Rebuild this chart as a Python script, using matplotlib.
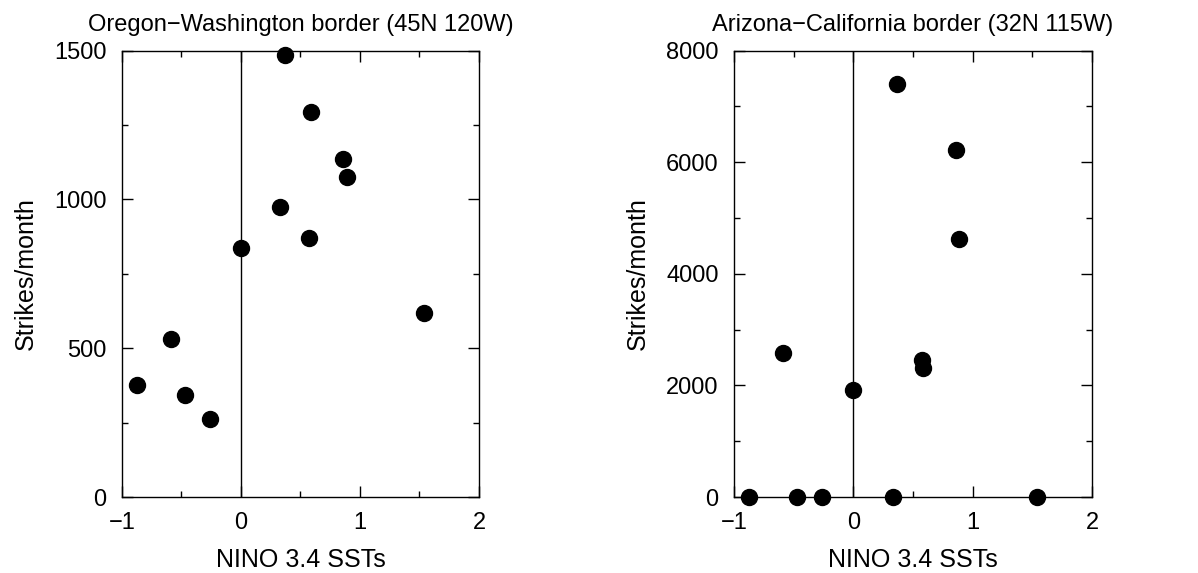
import matplotlib
matplotlib.use("Agg")
import matplotlib.pyplot as plt
from matplotlib.ticker import MultipleLocator

plt.rcParams['font.family'] = ['Liberation Sans', 'DejaVu Sans']

nino = [-0.874, -0.591, -0.468, -0.26, 0.0, 0.33, 0.37, 0.574, 0.586, 0.86, 0.888, 1.54]
oregon = [377, 532, 342, 263, 836, 974, 1486, 872, 1293, 1135, 1077, 617]
arizona = [0, 2587, 0, 0, 1918, 0, 7408, 2456, 2306, 6225, 4619, 0]

titles = ["Oregon\u2212Washington border (45N 120W)", "Arizona\u2212California border (32N 115W)"]
xlabel = "NINO 3.4 SSTs"
ylabel = "Strikes/month"

fig = plt.figure(figsize=(11.98, 5.73), dpi=100)
ax1 = fig.add_axes([0.1018, 0.1326, 0.298, 0.7789])
ax2 = fig.add_axes([0.6127, 0.1326, 0.2988, 0.7789])

configs = [(ax1, oregon, 1500, 500, 250), (ax2, arizona, 8000, 2000, 1000)]
for (ax, vals, ymax, ymaj, ymin), title in zip(configs, titles):
    ax.axvline(0, color='black', lw=1.0, zorder=1)
    ax.plot(nino, vals, 'o', color='black', markersize=11.5, clip_on=False, zorder=3)
    ax.set_xlim(-1, 2)
    ax.set_ylim(0, ymax)
    ax.xaxis.set_major_locator(MultipleLocator(1))
    ax.xaxis.set_minor_locator(MultipleLocator(0.5))
    ax.yaxis.set_major_locator(MultipleLocator(ymaj))
    ax.yaxis.set_minor_locator(MultipleLocator(ymin))
    ax.tick_params(which='both', direction='in', top=True, right=True, width=1.0, labelsize=17)
    ax.tick_params(which='major', length=8, pad=11)
    ax.tick_params(which='minor', length=4)
    for s in ax.spines.values():
        s.set_linewidth(1.0)
    ax.set_title(title, fontsize=17, pad=14)
    ax.set_xlabel(xlabel, fontsize=18, labelpad=10)
    ax.set_ylabel(ylabel, fontsize=18, labelpad=12)

fig.savefig("out.png", dpi=100)
